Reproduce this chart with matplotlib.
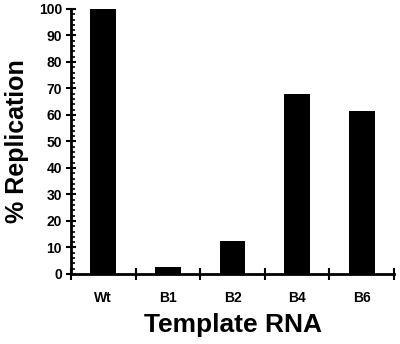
import numpy as np
import matplotlib.pyplot as plt
from matplotlib.ticker import MultipleLocator, FixedLocator, NullFormatter

templates = ["Wt", "B1", "B2", "B4", "B6"]
replication = [100, 2.7, 12.6, 68, 61.5]

plt.rcParams['font.family'] = ['Liberation Sans', 'DejaVu Sans']
plt.rcParams['font.weight'] = 'bold'

fig = plt.figure(figsize=(4, 3.44), dpi=100)
ax = fig.add_axes([0.1775, 0.2035, 0.8075, 0.7705])

x = np.arange(len(templates))
ax.bar(x, replication, width=0.4, color='black')

ax.set_xlim(-0.5, len(templates) - 0.5)
ax.set_ylim(0, 100)

# y axis: majors every 10, minors every 2
ax.yaxis.set_major_locator(MultipleLocator(10))
ax.yaxis.set_minor_locator(MultipleLocator(2))
ax.tick_params(axis='y', which='major', direction='inout', length=7, width=1.5, labelsize=10, pad=3)
ax.tick_params(axis='y', which='minor', direction='in', length=3, width=1.2)

# x axis: ticks at category boundaries, labels at centres
ax.xaxis.set_major_locator(FixedLocator(np.arange(-0.5, len(templates), 1)))
ax.xaxis.set_major_formatter(NullFormatter())
ax.xaxis.set_minor_locator(FixedLocator(x))
ax.set_xticklabels(templates, minor=True)
ax.tick_params(axis='x', which='major', direction='inout', length=9, width=1.5)
ax.tick_params(axis='x', which='minor', length=0, labelsize=10, pad=12)

for s in ['top', 'right']:
    ax.spines[s].set_visible(False)
for s in ['left', 'bottom']:
    ax.spines[s].set_linewidth(2)

ax.set_ylabel("% Replication", fontsize=18, fontweight='bold', labelpad=7)
ax.set_xlabel("Template RNA", fontsize=19, fontweight='bold', labelpad=6)

fig.savefig("out.png", dpi=100)
